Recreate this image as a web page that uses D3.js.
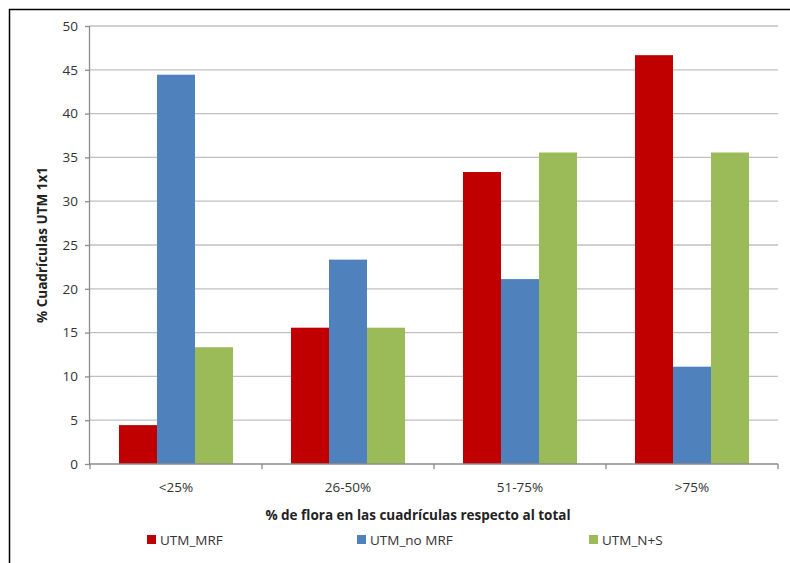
<!DOCTYPE html>
<html>
<head>
<meta charset="utf-8">
<script src="https://cdn.jsdelivr.net/npm/d3@7"></script>
<style>
  html, body { margin: 0; padding: 0; background: #fff; }
  svg { display: block; font-family: "Open Sans", "Liberation Sans", sans-serif; }
</style>
</head>
<body>
<svg id="chart" width="790" height="563"></svg>
<script>
const categories = ["<25%", "26-50%", "51-75%", ">75%"];
const seriesNames = ["UTM_MRF", "UTM_no MRF", "UTM_N+S"];
const seriesColors = ["#C00000", "#4F81BD", "#9BBB59"];
const utmMrf = [4.44, 15.56, 33.33, 46.67];
const utmNoMrf = [44.44, 23.33, 21.11, 11.11];
const utmNS = [13.33, 15.56, 35.56, 35.56];
const yTicks = [0, 5, 10, 15, 20, 25, 30, 35, 40, 45, 50];

const seriesValues = [utmMrf, utmNoMrf, utmNS];
const rows = categories.map((c, i) => ({
  category: c,
  values: seriesNames.map((s, j) => ({ series: s, value: seriesValues[j][i], color: seriesColors[j] }))
}));

const svg = d3.select("#chart");
const plotLeft = 90, plotRight = 778, plotTop = 26, plotBottom = 464;
const labelColor = "#333333";

// outer frame (right and bottom edges fall outside the view)
svg.append("rect")
  .attr("x", 9.5).attr("y", 9.5).attr("width", 800).attr("height", 600)
  .attr("fill", "none").attr("stroke", "#000").attr("stroke-width", 1.5);

const x = d3.scaleBand().domain(categories).range([plotLeft, plotRight]).paddingInner(0.337).paddingOuter(0.1685);
const xStep = d3.scaleBand().domain(categories).range([plotLeft, plotRight]).padding(0);
const xs = d3.scaleBand().domain(seriesNames).range([0, x.bandwidth()]);
const y = d3.scaleLinear().domain([0, 50]).range([plotBottom, plotTop]);

// horizontal gridlines
svg.append("g").selectAll("line").data(yTicks.filter(t => t > 0)).join("line")
  .attr("x1", plotLeft).attr("x2", plotRight)
  .attr("y1", d => y(d)).attr("y2", d => y(d))
  .attr("stroke", "#c0c0c0").attr("stroke-width", 1.3);

// bars
const groups = svg.append("g").selectAll("g").data(rows).join("g")
  .attr("transform", d => `translate(${x(d.category)},0)`);
groups.selectAll("rect").data(d => d.values).join("rect")
  .attr("x", d => xs(d.series))
  .attr("width", xs.bandwidth())
  .attr("y", d => y(d.value))
  .attr("height", d => y(0) - y(d.value))
  .attr("fill", d => d.color);

// y axis
const yAxis = svg.append("g").attr("transform", `translate(${plotLeft},0)`)
  .call(d3.axisLeft(y).tickValues(yTicks).tickSize(5).tickPadding(7));
yAxis.select(".domain").attr("stroke", "#8c8c8c").attr("stroke-width", 1.3).attr("d", `M-0.5,${plotTop}V${plotBottom}`);
yAxis.selectAll(".tick line").attr("stroke", "#8c8c8c").attr("stroke-width", 1.3);
yAxis.selectAll(".tick text").attr("font-size", 13.5).attr("fill", labelColor)
  .attr("font-family", "'Open Sans', sans-serif");

// x axis: ticks at category boundaries
const xAxisG = svg.append("g").attr("transform", `translate(0,${plotBottom})`);
xAxisG.append("line").attr("x1", plotLeft).attr("x2", plotRight).attr("y1", 0).attr("y2", 0)
  .attr("stroke", "#8c8c8c").attr("stroke-width", 1.3);
const boundaries = categories.map(c => xStep(c)).concat([xStep(categories[categories.length - 1]) + xStep.bandwidth()]);
xAxisG.selectAll("line.tk").data(boundaries).join("line").attr("class", "tk")
  .attr("x1", d => d).attr("x2", d => d).attr("y1", 0).attr("y2", 5)
  .attr("stroke", "#8c8c8c").attr("stroke-width", 1.3);
xAxisG.selectAll("text").data(categories).join("text")
  .attr("x", d => xStep(d) + xStep.bandwidth() / 2)
  .attr("y", 28)
  .attr("text-anchor", "middle")
  .attr("font-size", 13.5).attr("fill", labelColor)
  .text(d => d);

// axis titles
svg.append("text")
  .attr("x", 418).attr("y", 520)
  .attr("text-anchor", "middle").attr("font-size", 13.5).attr("font-weight", "bold").attr("fill", "#222")
  .text("% de flora en las cuadrículas respecto al total");
svg.append("text")
  .attr("transform", `translate(47,${(plotTop + plotBottom) / 2}) rotate(-90)`)
  .attr("text-anchor", "middle").attr("font-size", 13.5).attr("font-weight", "bold").attr("fill", "#222")
  .text("% Cuadrículas UTM 1x1");

// legend
const legendX = [147, 357, 589];
const legend = svg.append("g").selectAll("g").data(seriesNames).join("g")
  .attr("transform", (d, i) => `translate(${legendX[i]},535)`);
legend.append("rect").attr("width", 9).attr("height", 9).attr("fill", (d, i) => seriesColors[i]);
legend.append("text").attr("x", 13).attr("y", 9.5).attr("font-size", 13.5).attr("fill", labelColor).text(d => d);
</script>
</body>
</html>
